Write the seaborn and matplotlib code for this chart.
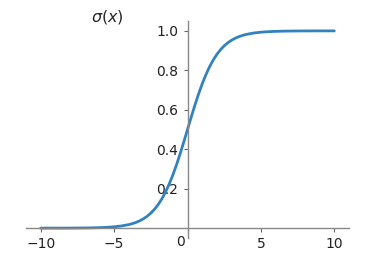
import matplotlib
matplotlib.use("Agg")
import matplotlib.pyplot as plt
import matplotlib.transforms as mtransforms
import seaborn as sns
import pandas as pd

sns.set_style("white")
plt.rcParams['font.family'] = ['DejaVu Sans']

x_vals = [-10, -9.5, -9, -8.5, -8, -7.5, -7, -6.5, -6, -5.5, -5, -4.5, -4, -3.75,
          -3.5, -3.25, -3, -2.75, -2.5, -2.25, -2, -1.75, -1.5, -1.25, -1, -0.75,
          -0.5, -0.25, 0, 0.25, 0.5, 0.75, 1, 1.25, 1.5, 1.75, 2, 2.25, 2.5, 2.75,
          3, 3.25, 3.5, 3.75, 4, 4.5, 5, 5.5, 6, 6.5, 7, 7.5, 8, 8.5, 9, 9.5, 10]
y_vals = [0.0000, 0.0001, 0.0001, 0.0002, 0.0003, 0.0006, 0.0009, 0.0015, 0.0025,
          0.0041, 0.0067, 0.0110, 0.0180, 0.0230, 0.0293, 0.0373, 0.0474, 0.0601,
          0.0759, 0.0953, 0.1192, 0.1480, 0.1824, 0.2227, 0.2689, 0.3208, 0.3775,
          0.4378, 0.5000, 0.5622, 0.6225, 0.6792, 0.7311, 0.7773, 0.8176, 0.8520,
          0.8808, 0.9047, 0.9241, 0.9399, 0.9526, 0.9627, 0.9707, 0.9770, 0.9820,
          0.9890, 0.9933, 0.9959, 0.9975, 0.9985, 0.9991, 0.9994, 0.9997, 0.9998,
          0.9999, 0.9999, 1.0000]
x_ticks = [-10, -5, 0, 5, 10]
y_ticks = [0.2, 0.4, 0.6, 0.8, 1.0]
title = r"$\sigma(x)$"

df = pd.DataFrame({"x": x_vals, "y": y_vals})

fig = plt.figure(figsize=(3.85, 2.59), dpi=100)
ax = fig.add_axes([26/385, 21/259, 323/385, 217/259])
sns.lineplot(data=df, x="x", y="y", ax=ax, color="#3282c0", linewidth=2)
ax.set_xlim(-11, 11)
ax.set_ylim(-0.05, 1.05)
ax.spines['left'].set_position(('data', 0))
ax.spines['bottom'].set_position(('data', 0))
ax.spines['top'].set_visible(False)
ax.spines['right'].set_visible(False)
for s in ('left', 'bottom'):
    ax.spines[s].set_color('#888888')
    ax.spines[s].set_linewidth(1.0)
ax.set_xticks(x_ticks)
ax.set_yticks(y_ticks)
ax.set_xticklabels([str(t) if t >= 0 else "\u2212" + str(-t) for t in x_ticks])
ax.set_yticklabels([f"{t:.1f}" for t in y_ticks])
ax.tick_params(axis='both', which='both', length=3, width=0.8, color='#666666',
               labelsize=10, labelcolor='#222222', direction='out', bottom=True, left=True)
offset = mtransforms.ScaledTranslation(-3/100, 2/100, fig.dpi_scale_trans)
for lbl, t in zip(ax.get_xticklabels(), x_ticks):
    if t == 0:
        lbl.set_horizontalalignment('right')
        lbl.set_transform(lbl.get_transform() + offset)
ax.set_xlabel("")
ax.set_ylabel("")
fig.text(107/385, 1 - 17/259, title, ha='center', va='center', fontsize=11.5)
fig.savefig("out.png", dpi=100)
